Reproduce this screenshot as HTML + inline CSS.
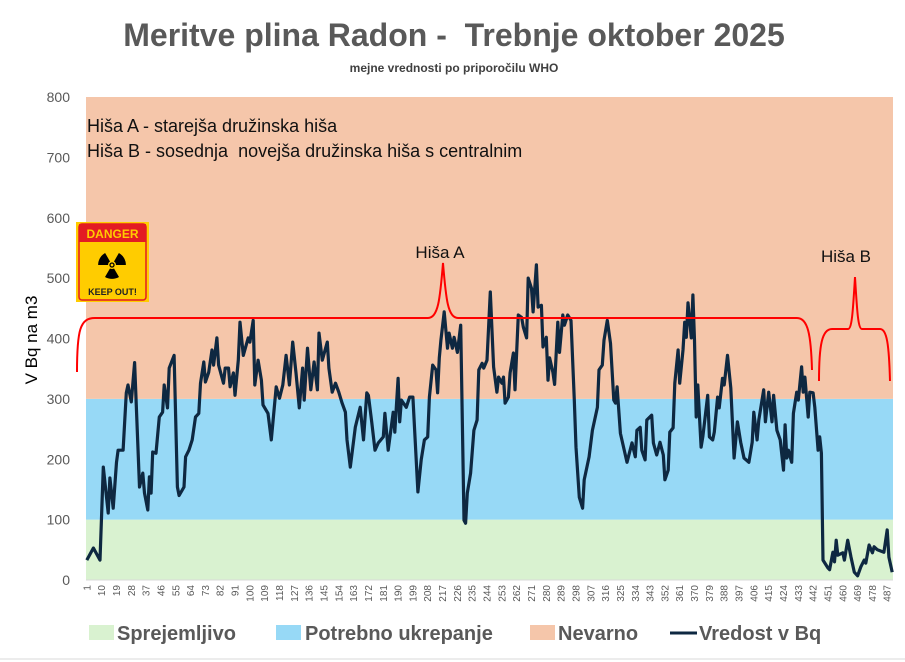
<!DOCTYPE html>
<html><head><meta charset="utf-8">
<style>
body{margin:0;background:#fff;}
svg{display:block;font-family:"Liberation Sans",sans-serif;}
</style></head>
<body>
<svg id="chart" width="905" height="662" viewBox="0 0 905 662">
<rect x="0" y="0" width="905" height="662" fill="#fff"/>
<text x="454" y="46" text-anchor="middle" font-size="32" font-weight="bold" fill="#595959">Meritve plina Radon -&#160; Trebnje oktober 2025</text>
<text x="454" y="72" text-anchor="middle" font-size="12" font-weight="bold" fill="#404040">mejne vrednosti po priporočilu WHO</text>
<g id="bands"></g>
<g id="yticks"></g>
<g id="xticks"></g>
<text x="0" y="0" transform="translate(37,340) rotate(-90)" text-anchor="middle" font-size="17" fill="#000">V Bq na m3</text>
<text x="87" y="132" font-size="18" fill="#111">Hiša A - starejša družinska hiša</text>
<text x="87" y="157" font-size="18" fill="#111">Hiša B - sosednja&#160; novejša družinska hiša s centralnim</text>
<g id="series"></g>
<path d="M77,372 C77,330 80,318 95,318 L428,318 C438,318 440,300 443,263 C446,300 448,318 458,318 L797,318 C808,318 811,335 812,370" fill="none" stroke="#ff0000" stroke-width="2"/>
<path d="M819,381 C819,345 822,329 832,329 L848,329 C852,329 853,310 855,277 C857,310 858,329 862,329 L880,329 C887,329 889,345 890,381" fill="none" stroke="#ff0000" stroke-width="2"/>
<text x="440" y="258" text-anchor="middle" font-size="17" fill="#111">Hiša A</text>
<text x="846" y="262" text-anchor="middle" font-size="17" fill="#111">Hiša B</text>
<g>
<rect x="76" y="222" width="73" height="80" fill="#ffcc00"/>
<rect x="79" y="224" width="67" height="76" rx="3" fill="#ffcc00" stroke="#e31b23" stroke-width="1.5"/>
<rect x="79" y="224" width="67" height="18" fill="#e31b23"/>
<text x="112.5" y="238" text-anchor="middle" font-size="12" font-weight="bold" fill="#ffcc00">DANGER</text>
<path d="M112,265 L105,253 A14,14 0 0 1 119,253 Z" fill="#000" transform="rotate(-60 112 265)"/>
<path d="M112,265 L105,253 A14,14 0 0 1 119,253 Z" fill="#000" transform="rotate(60 112 265)"/>
<path d="M112,265 L105,253 A14,14 0 0 1 119,253 Z" fill="#000" transform="rotate(180 112 265)"/>
<circle cx="112" cy="265" r="4" fill="#ffcc00"/>
<circle cx="112" cy="265" r="2" fill="none" stroke="#000" stroke-width="1.3"/>
<text x="112.5" y="295" text-anchor="middle" font-size="9" font-weight="bold" fill="#222">KEEP OUT!</text>
</g>
<g font-size="20" font-weight="bold" fill="#595959">
<rect x="89" y="625" width="25" height="15" fill="#d9f2d0"/>
<text x="117" y="640">Sprejemljivo</text>
<rect x="276" y="625" width="25" height="15" fill="#97d9f6"/>
<text x="305" y="640">Potrebno ukrepanje</text>
<rect x="530" y="625" width="25" height="15" fill="#f5c6aa"/>
<text x="558" y="640">Nevarno</text>
<line x1="670" y1="633" x2="697" y2="633" stroke="#0e2841" stroke-width="3"/>
<text x="699" y="640">Vredost v Bq</text>
</g>
<line x1="0" y1="659" x2="905" y2="659" stroke="#d9d9d9"/>
</svg>
<script>
const NS="http://www.w3.org/2000/svg";
const bandNames=["Sprejemljivo","Potrebno ukrepanje","Nevarno"];
const bandLow=[0,100,300];
const bandHigh=[100,300,800];
const bandColors=["#d9f2d0","#97d9f6","#f5c6aa"];
const yTicks=[0,100,200,300,400,500,600,700,800];
const categoryCount=490;
const sampleDays=[1,5,9,11,14,15,17,19,20,23,25,26,28,30,33,35,36,38,39,40,41,43,45,47,48,50,51,54,56,57,60,61,63,65,67,69,70,72,73,75,77,78,80,81,84,85,87,88,90,91,93,94,96,99,100,102,103,105,107,108,111,113,116,118,120,122,124,126,128,130,132,133,135,137,139,141,142,144,147,148,150,152,154,156,158,159,161,164,167,169,171,172,174,176,178,181,182,184,187,188,190,191,192,195,197,199,202,204,206,208,209,211,213,214,215,216,218,220,221,223,224,226,228,230,231,232,234,236,238,239,241,242,244,246,248,250,251,253,254,255,257,258,260,261,263,265,266,268,269,271,272,274,275,277,278,280,281,282,284,285,287,288,290,291,293,295,297,298,300,302,303,306,308,311,312,314,315,317,319,321,322,323,325,329,332,334,335,337,338,340,341,344,345,347,349,351,352,354,355,357,358,360,361,363,364,365,366,368,369,370,371,372,374,375,378,379,381,382,384,385,387,388,390,392,394,396,398,400,403,405,406,408,409,412,413,415,417,418,420,422,424,425,426,427,429,430,432,433,435,436,437,439,440,442,443,445,446,447,448,451,452,454,455,456,457,460,461,463,465,467,469,471,473,474,476,478,479,481,485,487,488,490];
const sampleValues=[33,53,33,187,111,169,119,195,215,215,310,323,295,360,154,177,144,116,171,144,212,210,270,278,323,285,351,372,154,140,154,204,215,232,270,276,326,361,328,344,381,356,401,356,326,351,351,320,343,306,364,427,372,401,394,430,323,364,331,290,276,232,320,301,323,372,323,394,343,285,351,298,384,315,361,315,409,364,394,351,311,326,311,293,278,232,187,253,286,232,310,306,262,215,227,237,276,215,278,245,334,262,298,286,303,303,146,199,232,237,303,356,348,310,368,397,444,384,409,384,402,377,422,99,94,144,177,248,265,348,359,351,364,477,353,311,336,326,336,293,303,343,376,315,439,435,419,401,500,483,444,522,452,455,386,402,331,368,344,324,427,377,439,422,439,430,298,220,137,119,166,204,248,286,348,356,397,430,392,298,293,320,243,195,227,204,248,253,215,199,265,273,227,207,228,207,166,182,245,252,326,381,326,381,427,402,459,401,472,397,270,323,220,237,306,237,232,245,303,285,334,323,372,318,202,262,228,202,195,228,278,232,265,315,262,311,262,306,248,232,182,257,202,215,195,276,311,298,353,311,336,270,311,310,286,215,237,210,33,20,17,46,30,66,41,45,33,66,38,13,7,22,33,28,58,45,55,50,46,83,38,13];
const xTickLabels=[];
for(let k=1;k<=categoryCount;k+=9){xTickLabels.push(k);}

const PL=86,PR=893,PT=97,PB=580,YMAX=800;
function yScale(v){return PB-(v/YMAX)*(PB-PT);}
function xScale(c){return PL+(c-0.5)*(PR-PL)/categoryCount;}

const bands=document.getElementById('bands');
for(let i=0;i<bandNames.length;i++){
  const r=document.createElementNS(NS,'rect');
  r.setAttribute('x',PL);
  r.setAttribute('width',PR-PL);
  r.setAttribute('y',yScale(bandHigh[i]));
  r.setAttribute('height',yScale(bandLow[i])-yScale(bandHigh[i]));
  r.setAttribute('fill',bandColors[i]);
  
  
  bands.appendChild(r);
}
const base=document.createElementNS(NS,'line');
base.setAttribute('x1',PL);base.setAttribute('x2',PR);
base.setAttribute('y1',PB);base.setAttribute('y2',PB);
base.setAttribute('stroke','#d9d9d9');


bands.appendChild(base);

const yt=document.getElementById('yticks');
yTicks.forEach(v=>{
  const t=document.createElementNS(NS,'text');
  t.setAttribute('x',70);
  t.setAttribute('y',yScale(v)+5);
  t.setAttribute('text-anchor','end');
  t.setAttribute('font-size','14');
  t.setAttribute('fill','#595959');
  t.textContent=v;
  
  
  yt.appendChild(t);
});

const xt=document.getElementById('xticks');
xTickLabels.forEach(c=>{
  const t=document.createElementNS(NS,'text');
  const x=xScale(c)+3.5;
  t.setAttribute('x',0);t.setAttribute('y',0);
  t.setAttribute('transform','translate('+x+',585) rotate(-90)');
  t.setAttribute('text-anchor','end');
  t.setAttribute('font-size','10');
  t.setAttribute('fill','#595959');
  t.textContent=c;
  
  
  xt.appendChild(t);
});

const s=document.getElementById('series');
let d='';
for(let i=0;i<sampleDays.length;i++){
  d+=(i?'L':'M')+xScale(sampleDays[i]).toFixed(1)+','+yScale(sampleValues[i]).toFixed(1);
}
const p=document.createElementNS(NS,'path');
p.setAttribute('d',d);
p.setAttribute('fill','none');
p.setAttribute('stroke','#0e2841');
p.setAttribute('stroke-width','3.2');
p.setAttribute('stroke-linejoin','round');


s.appendChild(p);
</script>
</body></html>
